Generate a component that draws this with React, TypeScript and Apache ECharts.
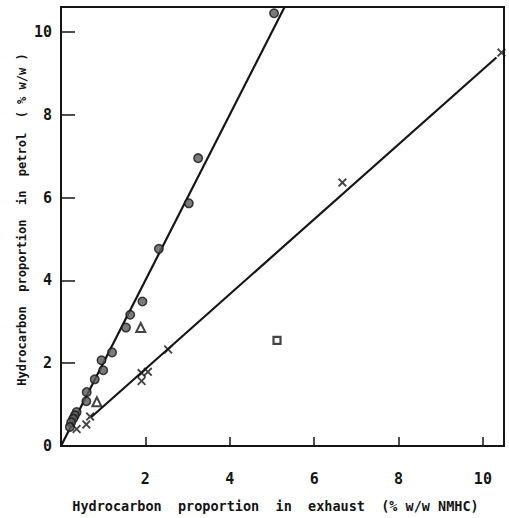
import React, { useEffect, useRef } from "react";
import * as echarts from "echarts";

// Measured samples: hydrocarbon share in exhaust (x) vs. in petrol (y), % w/w
const circlePoints: [number, number][] = [
  [5.05, 10.45], [3.25, 6.95], [3.03, 5.86], [2.32, 4.76], [1.93, 3.49],
  [1.64, 3.17], [1.54, 2.86], [1.21, 2.26], [0.96, 2.07], [1.0, 1.83],
  [0.8, 1.61], [0.61, 1.3], [0.6, 1.08], [0.37, 0.82], [0.33, 0.74],
  [0.29, 0.66], [0.24, 0.57], [0.21, 0.46],
];
const crossPoints: [number, number][] = [
  [10.44, 9.5], [6.67, 6.36], [2.54, 2.33], [2.06, 1.79], [1.91, 1.76],
  [1.91, 1.57], [0.69, 0.71], [0.6, 0.52], [0.37, 0.41],
];
const trianglePoints: [number, number][] = [[1.89, 2.86], [0.85, 1.07]];
const squarePoints: [number, number][] = [[5.12, 2.55]];

// Fitted regression lines (end points)
const upperFit: [number, number][] = [[0, 0], [5.3, 10.6]];
const lowerFit: [number, number][] = [[0.72, 0.7], [10.32, 9.38]];

const xTicks = [2, 4, 6, 8, 10];
const yTicks = [0, 2, 4, 6, 8, 10];

const FONT = "DejaVu Sans Mono";
const INK = "#151515";

const crossSymbol =
  "path://M0,1.5L1.5,0L5,3.5L8.5,0L10,1.5L6.5,5L10,8.5L8.5,10L5,6.5L1.5,10L0,8.5L3.5,5Z";

export default function App() {
  const ref = useRef<HTMLDivElement>(null);

  useEffect(() => {
    if (!ref.current) return;
    const chart = echarts.init(ref.current, null, { renderer: "svg" });
    chart.setOption({
      animation: false,
      backgroundColor: "#ffffff",
      grid: {
        left: 61,
        right: 5,
        top: 7,
        bottom: 66,
        show: true,
        borderColor: INK,
        borderWidth: 2,
        backgroundColor: "transparent",
      },
      xAxis: {
        type: "value",
        min: 0,
        max: 10.5,
        interval: 2,
        name: "Hydrocarbon  proportion  in  exhaust  (% w/w NMHC)",
        nameLocation: "middle",
        nameGap: 53,
        nameMoveOverlap: false,
        nameTextStyle: {
          fontFamily: FONT,
          fontSize: 13.5,
          fontWeight: "bold",
          color: INK,
          padding: [0, 14, 0, 0],
        },
        axisLine: { show: true, lineStyle: { color: INK, width: 2 } },
        axisTick: { show: true, inside: true, length: 9, lineStyle: { color: INK, width: 1.5 } },
        splitLine: { show: false },
        axisLabel: {
          fontFamily: FONT,
          fontSize: 15,
          fontWeight: "bold",
          color: INK,
          margin: 25,
          formatter: (v: number) => (xTicks.includes(v) ? String(v) : ""),
        },
      },
      yAxis: {
        type: "value",
        min: 0,
        max: 10.6,
        interval: 2,
        name: "Hydrocarbon  proportion  in  petrol  ( % w/w )",
        nameLocation: "middle",
        nameRotate: 90,
        nameGap: 33,
        nameMoveOverlap: false,
        nameTextStyle: {
          fontFamily: FONT,
          fontSize: 12,
          fontWeight: "bold",
          color: INK,
          padding: [0, 0, 0, 14],
        },
        axisLine: { show: true, lineStyle: { color: INK, width: 2 } },
        axisTick: { show: true, inside: true, length: 14, lineStyle: { color: INK, width: 1.5 } },
        splitLine: { show: false },
        axisLabel: {
          fontFamily: FONT,
          fontSize: 15,
          fontWeight: "bold",
          color: INK,
          margin: 9,
          formatter: (v: number) => (yTicks.includes(v) ? String(v) : ""),
        },
      },
      series: [
        {
          type: "line",
          data: upperFit,
          symbol: "none",
          lineStyle: { color: INK, width: 2.2 },
          clip: true,
          z: 2,
        },
        {
          type: "line",
          data: lowerFit,
          symbol: "none",
          lineStyle: { color: INK, width: 2.2 },
          clip: true,
          z: 2,
        },
        {
          type: "scatter",
          data: circlePoints,
          symbol: "circle",
          symbolSize: 8.5,
          itemStyle: { color: "#5a5a5a", borderColor: INK, borderWidth: 1.5 },
          z: 3,
        },
        {
          type: "scatter",
          data: crossPoints,
          symbol: crossSymbol,
          symbolSize: 9,
          itemStyle: { color: INK },
          z: 3,
        },
        {
          type: "scatter",
          data: trianglePoints,
          symbol: "triangle",
          symbolSize: 9,
          itemStyle: { color: "#ffffff", borderColor: INK, borderWidth: 2 },
          z: 3,
        },
        {
          type: "scatter",
          data: squarePoints,
          symbol: "rect",
          symbolSize: 7,
          itemStyle: { color: "#ffffff", borderColor: INK, borderWidth: 2.2 },
          z: 3,
        },
      ],
    });
    return () => chart.dispose();
  }, []);

  return (
    <div
      ref={ref}
      style={{ position: "fixed", left: 0, top: 0, width: 509, height: 518 }}
    />
  );
}
